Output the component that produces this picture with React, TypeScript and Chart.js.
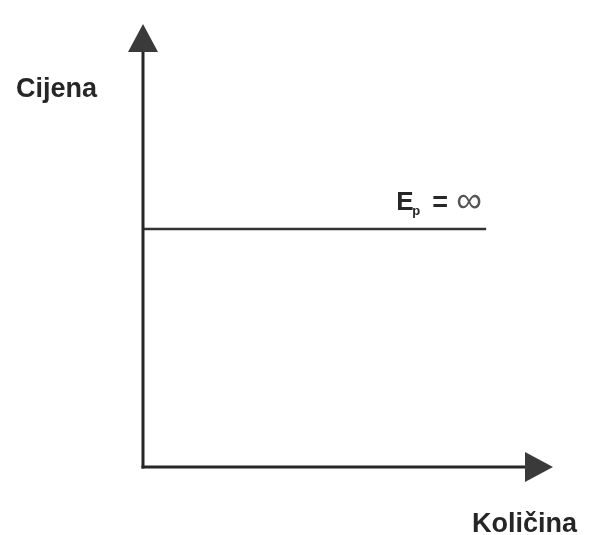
import React, { useEffect, useRef } from "react";
import { Chart, registerables } from "chart.js";

Chart.register(...registerables);

// ---- data ----
const xAxisLabel = "Količina";
const yAxisLabel = "Cijena";
const curveLabelMain = "E";
const curveLabelSub = "p";
const curveLabelEq = "=";
const curveLabelInf = "∞";
const quantities = [0, 83.7];
const prices = [53.7, 53.7];
const axisRange = [0, 100];

const INK = "#262626";
const FONT = "'Liberation Sans', Arial, sans-serif";

const diagramPlugin = {
  id: "diagram",
  afterDatasetsDraw(chart: any) {
    const { ctx } = chart;
    const xs = chart.scales.x;
    const ys = chart.scales.y;
    const x0 = xs.getPixelForValue(axisRange[0]);
    const xEnd = xs.getPixelForValue(axisRange[1]);
    const y0 = ys.getPixelForValue(axisRange[0]);
    const yEnd = ys.getPixelForValue(axisRange[1]);
    const head = 28;
    const half = 15;

    ctx.save();
    ctx.strokeStyle = INK;
    ctx.lineWidth = 3;
    ctx.lineCap = "butt";
    // vertical axis
    ctx.beginPath();
    ctx.moveTo(x0, y0 + 1.5);
    ctx.lineTo(x0, yEnd + head - 2);
    ctx.stroke();
    // horizontal axis
    ctx.beginPath();
    ctx.moveTo(x0 - 1.5, y0);
    ctx.lineTo(xEnd - head + 2, y0);
    ctx.stroke();

    // arrowheads
    ctx.fillStyle = "#3a3a3a";
    ctx.beginPath();
    ctx.moveTo(x0, yEnd);
    ctx.lineTo(x0 - half, yEnd + head);
    ctx.lineTo(x0 + half, yEnd + head);
    ctx.closePath();
    ctx.fill();
    ctx.beginPath();
    ctx.moveTo(xEnd, y0);
    ctx.lineTo(xEnd - head, y0 - half);
    ctx.lineTo(xEnd - head, y0 + half);
    ctx.closePath();
    ctx.fill();

    // axis labels
    ctx.fillStyle = INK;
    ctx.textBaseline = "alphabetic";
    ctx.textAlign = "left";
    ctx.font = `bold 27px ${FONT}`;
    ctx.fillText(yAxisLabel, x0 - 127, yEnd + 73);
    ctx.fillText(xAxisLabel, xEnd - 81, y0 + 65);

    // curve label
    const lx = xs.getPixelForValue(quantities[quantities.length - 1]);
    const ly = ys.getPixelForValue(prices[prices.length - 1]);
    ctx.font = `bold 26px ${FONT}`;
    ctx.fillText(curveLabelMain, lx - 90, ly - 19);
    ctx.font = `bold 13px ${FONT}`;
    ctx.fillText(curveLabelSub, lx - 74, ly - 14);
    ctx.font = `bold 27px ${FONT}`;
    ctx.fillText(curveLabelEq, lx - 54, ly - 18);
    ctx.fillStyle = "#555555";
    ctx.font = `36px ${FONT}`;
    ctx.textBaseline = "middle";
    ctx.fillText(curveLabelInf, lx - 30, ly - 27);
    ctx.restore();
  },
};

export default function App() {
  const ref = useRef<HTMLCanvasElement | null>(null);
  useEffect(() => {
    if (!ref.current) return;
    const chart = new Chart(ref.current, {
      type: "line",
      data: {
        datasets: [
          {
            data: quantities.map((q, i) => ({ x: q, y: prices[i] })),
            borderColor: "#333333",
            borderWidth: 2.5,
            pointRadius: 0,
            fill: false,
            tension: 0,
          },
        ],
      },
      options: {
        animation: false,
        responsive: false,
        maintainAspectRatio: false,
        layout: { padding: { left: 143, right: 43, top: 24, bottom: 68 } },
        plugins: { legend: { display: false }, tooltip: { enabled: false } },
        scales: {
          x: { type: "linear", min: axisRange[0], max: axisRange[1], display: false },
          y: { type: "linear", min: axisRange[0], max: axisRange[1], display: false },
        },
      },
      plugins: [diagramPlugin],
    });
    return () => chart.destroy();
  }, []);
  return (
    <div style={{ position: "fixed", left: 0, top: 0, width: 596, height: 535, background: "#fff" }}>
      <canvas ref={ref} width={596} height={535} style={{ display: "block" }} />
    </div>
  );
}
